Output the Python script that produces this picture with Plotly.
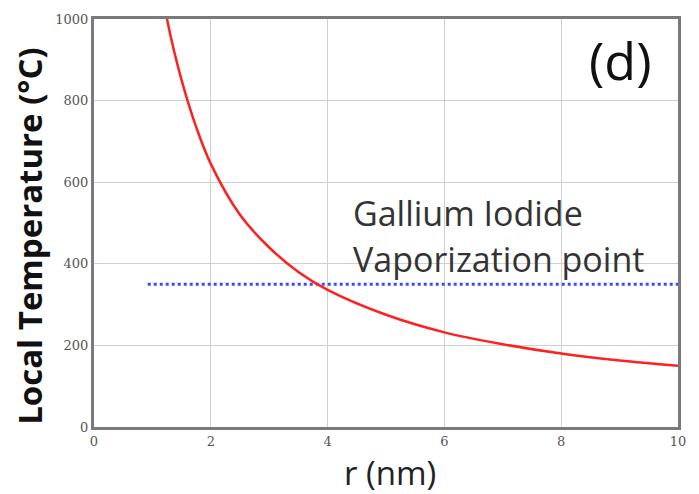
import plotly.graph_objects as go

r_nm = [1.15, 1.25, 1.5, 1.75, 2.0, 2.5, 3.0, 3.5, 4.0, 5.0, 6.0, 7.0, 8.0, 9.0, 10.0]
temp_c = [1090, 1000, 850, 735, 645, 520, 440, 380, 336, 275, 232, 203, 180, 163, 150]

vap_r = [0.92, 10.0]
vap_t = [350, 350]

x_ticks = [0, 2, 4, 6, 8, 10]
y_ticks = [0, 200, 400, 600, 800, 1000]

fig = go.Figure()
fig.add_trace(go.Scatter(x=vap_r, y=vap_t, mode="lines",
                         line=dict(color="#3a4cff", width=3, dash="dot"),
                         showlegend=False))
fig.add_trace(go.Scatter(x=r_nm, y=temp_c, mode="lines",
                         line=dict(color="#ff2020", width=2.5, shape="spline"),
                         showlegend=False))

axis_common = dict(showgrid=True, gridcolor="#d0d0d0", gridwidth=1,
                   showline=True, linecolor="#7a7a7a", linewidth=3, mirror=True,
                   zeroline=False, ticks="",
                   tickfont=dict(family="DejaVu Serif", size=13, color="#555555"))

fig.update_xaxes(range=[0, 10], tickvals=x_ticks, ticktext=[str(v) for v in x_ticks],
                 **axis_common)
fig.update_yaxes(range=[0, 1000], tickvals=y_ticks, ticktext=[str(v) for v in y_ticks],
                 **axis_common)

# axis titles
fig.add_annotation(x=0, y=0.4685, xref="paper", yref="paper", xshift=-64,
                   text="<b>Local Temperature (°C)</b>", textangle=-90,
                   showarrow=False, xanchor="center", yanchor="middle",
                   font=dict(family="Open Sans", size=33, color="#111111"))
fig.add_annotation(x=0.506, y=-0.111, xref="paper", yref="paper",
                   text="r (nm)", showarrow=False, xanchor="center", yanchor="middle",
                   font=dict(family="Open Sans", size=33, color="#222222"))

fig.add_annotation(x=4.4, y=525, xref="x", yref="y", text="Gallium Iodide",
                   showarrow=False, xanchor="left", yanchor="middle",
                   font=dict(family="Open Sans", size=34, color="#333333"))
fig.add_annotation(x=4.4, y=412, xref="x", yref="y", text="Vaporization point",
                   showarrow=False, xanchor="left", yanchor="middle",
                   font=dict(family="Open Sans", size=34, color="#333333"))
fig.add_annotation(x=9.02, y=900, xref="x", yref="y", text="(d)",
                   showarrow=False, xanchor="center", yanchor="middle",
                   font=dict(family="Open Sans", size=52, color="#111111"))

fig.update_layout(width=699, height=494, margin=dict(l=94, r=21, t=14, b=67),
                  plot_bgcolor="white", paper_bgcolor="white")

fig.write_html("out.html")
